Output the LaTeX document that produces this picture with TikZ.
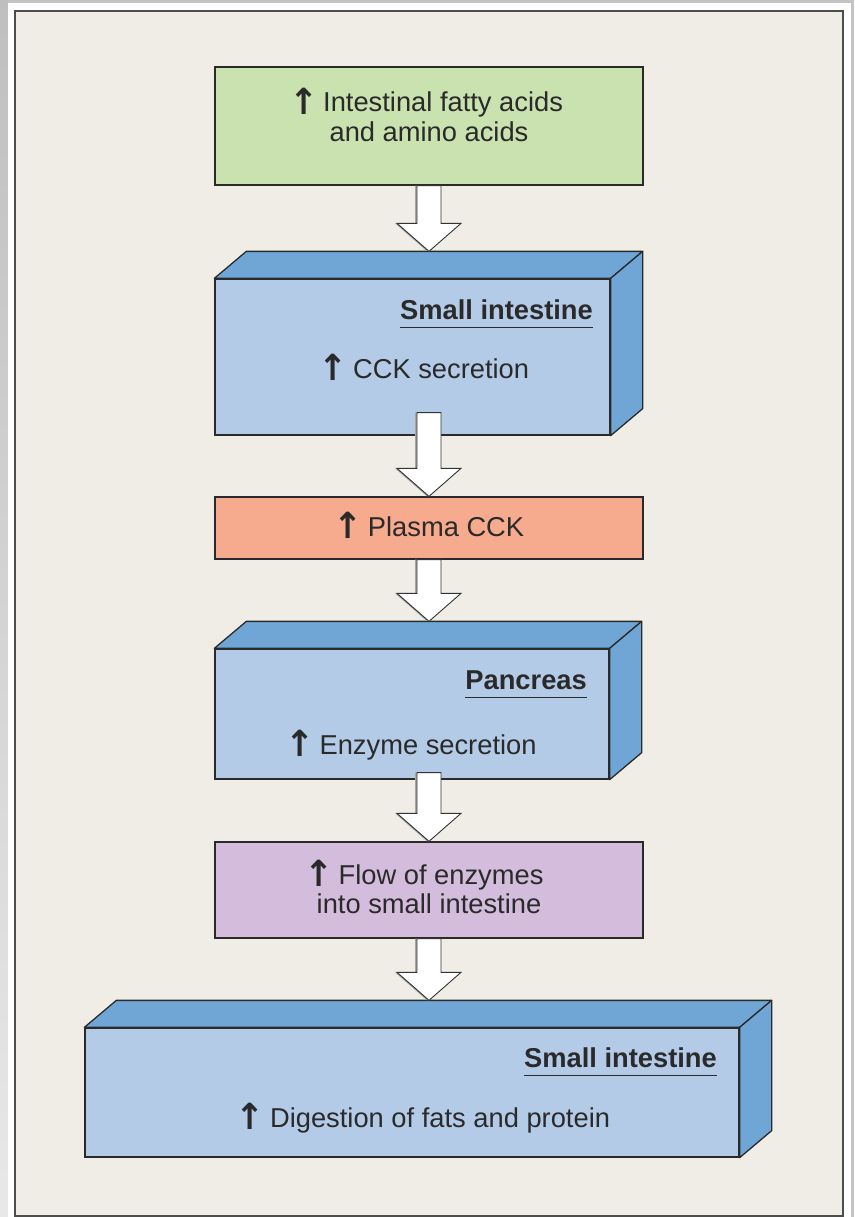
\documentclass[tikz,border=0pt]{standalone}
\usepackage{fontspec}
\setmainfont{Liberation Sans}
\newfontfamily\arrowfont{DejaVu Sans}
\usetikzlibrary{calc}

\definecolor{pagegray}{HTML}{C4C4C4}
\definecolor{panel}{HTML}{F0EDE6}
\definecolor{framec}{HTML}{4D4D4D}
\definecolor{greenbox}{HTML}{CAE2B0}
\definecolor{bluefront}{HTML}{B4CBE7}
\definecolor{bluedeep}{HTML}{6FA6D6}
\definecolor{salmon}{HTML}{F6AA8E}
\definecolor{lilac}{HTML}{D4BCDC}
\definecolor{ink}{HTML}{2A2A2A}

% bold up arrow used in front of the labels
\newcommand{\upmark}{\raisebox{-2.5pt}{\scalebox{1.45}[1.5]{\arrowfont\bfseries\fontsize{24}{28}\selectfont ↑}}\hspace{5pt}}

% hollow block arrow from a start point (#1) down to a tip (#2)
\newcommand{\blockarrow}[2]{%
  \fill[arrowshadow] let \p1=(#1), \p2=(#2) in
    (\x1-14pt,\y1) -- (\x1-14pt,\y2+28pt) -- (\x1-34pt,\y2+28pt) -- (\x1-2pt,\y2)
    -- (\x1+30pt,\y2+28pt) -- (\x1+10pt,\y2+28pt) -- (\x1+10pt,\y1) -- cycle;
  \draw[arrowbody] let \p1=(#1), \p2=(#2) in
    (\x1-12pt,\y1) -- (\x1-12pt,\y2+28pt) -- (\x1-32pt,\y2+28pt) -- (\x1,\y2)
    -- (\x1+32pt,\y2+28pt) -- (\x1+12pt,\y2+28pt) -- (\x1+12pt,\y1) -- cycle;
}

\tikzset{
  box/.style={draw=ink, line width=1.3pt, inner sep=0pt},
  face/.style={draw=ink, line width=1.3pt, fill=bluedeep, line join=round},
  txt/.style={inner sep=0pt, text=ink, font=\fontsize{27.3}{32}\selectfont},
  title/.style={txt, font=\fontsize{27.3}{32}\selectfont\bfseries},
  uline/.style={draw=ink, line width=1.8pt},
  arrowshadow/.style={fill=black!35},
  arrowbody/.style={draw=black!80, fill=white, line width=0.9pt, line join=miter},
}

\begin{document}
\begin{tikzpicture}[x=1pt,y=-1pt]
\useasboundingbox (0,0) rectangle (854,1217);

% page surround and framed panel
\fill[pagegray] (0,0) rectangle (854,1217);
\shade[top color=black!25, bottom color=black!9] (0,0) rectangle (8,1217);
\fill[white] (8,3) rectangle (851,1217);
\draw[framec, fill=panel, line width=2pt] (15,11) rectangle (843,1216);

% plain boxes
\node[box, fill=greenbox, minimum width=428pt, minimum height=118pt] (green) at (429,126) {};
\node[box, fill=salmon, minimum width=428pt, minimum height=62pt] (plasma) at (429,528) {};
\node[box, fill=lilac, minimum width=428pt, minimum height=96pt] (flow) at (429,890) {};

% 3-D blocks: front face plus top and side faces
\node[box, fill=bluefront, minimum width=395pt, minimum height=156pt] (si1) at (412.5,357) {};
\node[box, fill=bluefront, minimum width=394pt, minimum height=130pt] (pan) at (412,714) {};
\node[box, fill=bluefront, minimum width=654pt, minimum height=129pt] (si2) at (412,1092.5) {};

\foreach \b in {si1,pan,si2}{
  \draw[face] (\b.north west) -- ++(32,-27) -- ($(\b.north east)+(32,-27)$) -- (\b.north east) -- cycle;
  \draw[face] (\b.north east) -- ++(32,-27) -- ($(\b.south east)+(32,-27)$) -- (\b.south east) -- cycle;
  \coordinate (\b back) at ($(\b.north west)+(32,-27)$);
}

% labels
\node[txt, anchor=base] (g1) at (426,112) {\upmark Intestinal fatty acids};
\node[txt, anchor=base] (g2) at (429,142) {and amino acids};

\node[title, anchor=base east] (si1t) at (593,319) {Small intestine};
\node[txt, anchor=base] (si1m) at (424,378) {\upmark CCK secretion};

\node[txt, anchor=base] (pl) at (429,536) {\upmark Plasma CCK};

\node[title, anchor=base east] (pant) at (587,689) {Pancreas};
\node[txt, anchor=base] (panm) at (411,754) {\upmark Enzyme secretion};

\node[txt, anchor=base] (f1) at (424,884) {\upmark Flow of enzymes};
\node[txt, anchor=base] (f2) at (429,913) {into small intestine};

\node[title, anchor=base east] (si2t) at (717,1067) {Small intestine};
\node[txt, anchor=base] (si2m) at (423,1127) {\upmark Digestion of fats and protein};

\foreach \t in {si1t,pant,si2t}{
  \draw[uline] ($(\t.base west)+(0,8.5)$) -- ($(\t.base east)+(0,8.5)$);
}

% block arrows between the stages
\coordinate (a2start) at ($(plasma.north |- si1.south)+(0,-23)$);
\coordinate (a4start) at ($(flow.north |- pan.south)+(0,-7)$);
\blockarrow{green.south}{green.south |- si1back}
\blockarrow{a2start}{plasma.north}
\blockarrow{plasma.south}{plasma.south |- panback}
\blockarrow{a4start}{flow.north}
\blockarrow{flow.south}{flow.south |- si2back}
\end{tikzpicture}
\end{document}
